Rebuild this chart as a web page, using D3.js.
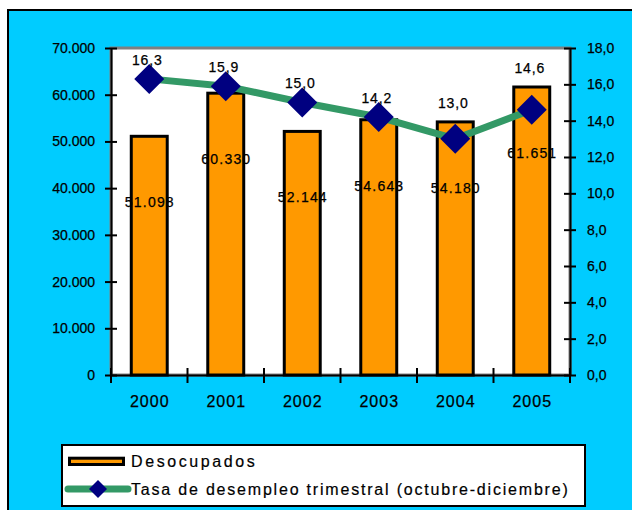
<!DOCTYPE html>
<html>
<head>
<meta charset="utf-8">
<script src="https://cdn.jsdelivr.net/npm/d3@7"></script>
<style>
  html, body { margin: 0; padding: 0; background: #ffffff; }
  svg { display: block; font-family: "Liberation Sans", Arial, sans-serif; }
</style>
</head>
<body>
<svg id="chart" width="632" height="510"></svg>
<script>
// ---- data ----
const years = ["2000", "2001", "2002", "2003", "2004", "2005"];
const desocupados = [51098, 60330, 52144, 54643, 54180, 61651];
const tasa = [16.3, 15.9, 15.0, 14.2, 13.0, 14.6];
const leftTicks = [0, 10000, 20000, 30000, 40000, 50000, 60000, 70000];
const rightTicks = [0, 2, 4, 6, 8, 10, 12, 14, 16, 18];
const legendLabels = ["Desocupados", "Tasa de desempleo trimestral (octubre-diciembre)"];

// ---- setup ----
const locale = d3.formatLocale({ decimal: ",", thousands: ".", grouping: [3], currency: ["", ""] });
const fmtThousands = locale.format(",.0f");
const fmtRate = locale.format(".1f");

const svg = d3.select("#chart");
const W = 632, H = 510;
const plot = { left: 111, right: 570, top: 48, bottom: 375 };

const orange = "#FF9900";
const green = "#339966";
const navy = "#000080";
const cyan = "#00CCFF";

// chart area background
svg.append("rect").attr("x", 8).attr("y", 10).attr("width", W + 10).attr("height", H + 10)
  .attr("fill", cyan).attr("stroke", "#000").attr("stroke-width", 2);

// scales
const x = d3.scaleBand().domain(years).range([plot.left, plot.right]).paddingInner(0).paddingOuter(0);
const yL = d3.scaleLinear().domain([0, 70000]).range([plot.bottom, plot.top]);
const yR = d3.scaleLinear().domain([0, 18]).range([plot.bottom, plot.top]);

// plot area
svg.append("rect")
  .attr("x", plot.left).attr("y", plot.top)
  .attr("width", plot.right - plot.left).attr("height", plot.bottom - plot.top)
  .attr("fill", "#ffffff").attr("stroke", "#808080").attr("stroke-width", 3);

// bars
const barW = x.bandwidth() * 0.47;
svg.append("g").selectAll("rect").data(desocupados).join("rect")
  .attr("x", (d, i) => x(years[i]) + x.bandwidth() / 2 - barW / 2)
  .attr("y", d => yL(d))
  .attr("width", barW)
  .attr("height", d => yL(0) - yL(d))
  .attr("fill", orange).attr("stroke", "#000").attr("stroke-width", 3);

// axes
function styleAxis(g) {
  g.selectAll(".domain").attr("stroke", "#000").attr("stroke-width", 2);
  g.selectAll(".tick line").attr("stroke", "#000").attr("stroke-width", 2);
  g.selectAll("text").attr("fill", "#000");
}

const leftAxis = svg.append("g").attr("transform", `translate(${plot.left},0)`)
  .call(d3.axisLeft(yL).tickValues(leftTicks).tickFormat(fmtThousands).tickSizeInner(6).tickSizeOuter(0).tickPadding(10));
leftAxis.selectAll(".tick line").attr("x2", -6).attr("x1", 6);
leftAxis.selectAll("text").attr("font-size", 14).attr("x", -16).attr("stroke", "#000").attr("stroke-width", 0.25);
styleAxis(leftAxis);

const rightAxis = svg.append("g").attr("transform", `translate(${plot.right},0)`)
  .call(d3.axisRight(yR).tickValues(rightTicks).tickFormat(fmtRate).tickSizeInner(6).tickSizeOuter(0).tickPadding(10));
rightAxis.selectAll(".tick line").attr("x1", -6).attr("x2", 6);
rightAxis.selectAll("text").attr("font-size", 14).attr("x", 17).attr("stroke", "#000").attr("stroke-width", 0.25);
styleAxis(rightAxis);

// x axis: line + boundary ticks (crossing)
const bottomAxis = svg.append("g").attr("transform", `translate(0,${plot.bottom})`)
  .call(d3.axisBottom(x).tickSize(0).tickPadding(21));
bottomAxis.selectAll("text").attr("font-size", 16).attr("letter-spacing", 1).attr("dx", 0.5)
  .attr("stroke", "#000").attr("stroke-width", 0.25);
styleAxis(bottomAxis);
const boundaries = years.map(y => x(y)).concat([plot.right]);
bottomAxis.append("g").selectAll("line").data(boundaries).join("line")
  .attr("x1", d => d).attr("x2", d => d).attr("y1", -7).attr("y2", 8)
  .attr("stroke", "#000").attr("stroke-width", 2);

// line series
const cx = i => x(years[i]) + x.bandwidth() / 2;
const line = d3.line().x((d, i) => cx(i)).y(d => yR(d));
svg.append("path").datum(tasa).attr("d", line)
  .attr("fill", "none").attr("stroke", green).attr("stroke-width", 7).attr("stroke-linejoin", "round");

// diamond markers
const diamond = r => `M0,${-r}L${r},0L0,${r}L${-r},0Z`;
svg.append("g").selectAll("path").data(tasa).join("path")
  .attr("transform", (d, i) => `translate(${cx(i)},${yR(d)})`)
  .attr("d", diamond(15))
  .attr("fill", navy);

// bar value labels
svg.append("g").selectAll("text").data(desocupados).join("text")
  .attr("x", (d, i) => cx(i) + 0.6)
  .attr("y", d => yL(d) + 66)
  .attr("dy", "0.35em")
  .attr("text-anchor", "middle")
  .attr("font-size", 14).attr("letter-spacing", 1.2)
  .attr("fill", "#000").attr("stroke", "#000").attr("stroke-width", 0.25)
  .text(d => fmtThousands(d));

// line value labels
svg.append("g").selectAll("text").data(tasa).join("text")
  .attr("x", (d, i) => cx(i) - 2)
  .attr("y", (d, i) => Math.min(yR(d), yL(desocupados[i])) - 19)
  .attr("dy", "0.35em")
  .attr("text-anchor", "middle")
  .attr("font-size", 14).attr("letter-spacing", 0.8)
  .attr("fill", "#000").attr("stroke", "#000").attr("stroke-width", 0.25)
  .text(d => fmtRate(d));

// legend
const lg = svg.append("g");
lg.append("rect").attr("x", 62).attr("y", 445).attr("width", 523).attr("height", 61)
  .attr("fill", "#fff").attr("stroke", "#000").attr("stroke-width", 2);
lg.append("rect").attr("x", 69.5).attr("y", 458.2).attr("width", 54).attr("height", 6.3)
  .attr("fill", orange).attr("stroke", "#000").attr("stroke-width", 3);
lg.append("line").attr("x1", 68).attr("x2", 128).attr("y1", 489).attr("y2", 489)
  .attr("stroke", green).attr("stroke-width", 7).attr("stroke-linecap", "round");
lg.append("path").attr("transform", "translate(98,489)").attr("d", diamond(9)).attr("fill", navy);
lg.selectAll("text.lt").data(legendLabels).join("text")
  .attr("class", "lt")
  .attr("x", 131)
  .attr("y", (d, i) => 461 + i * 28)
  .attr("dy", "0.35em")
  .attr("font-size", 16).attr("letter-spacing", (d, i) => i === 0 ? 2.6 : 1.8)
  .attr("fill", "#000").attr("stroke", "#000").attr("stroke-width", 0.2)
  .text(d => d);
</script>
</body>
</html>
